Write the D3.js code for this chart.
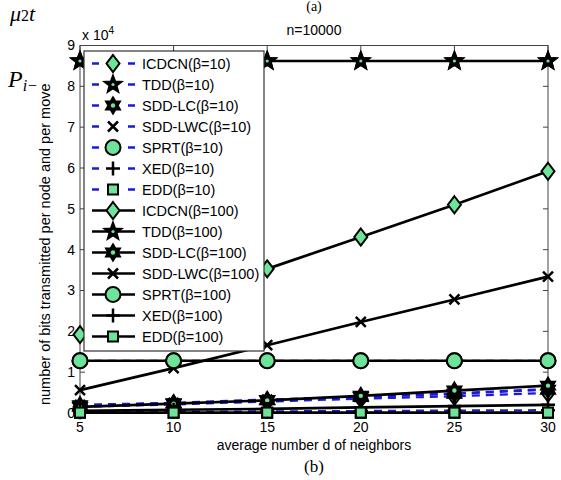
<!DOCTYPE html>
<html>
<head>
<meta charset="utf-8">
<script src="https://cdn.jsdelivr.net/npm/d3@7"></script>
<style>
  body { margin: 0; background: #fff; }
  svg { display: block; font-family: "Liberation Sans", Arial, sans-serif; }
</style>
</head>
<body>
<div id="chart"></div>
<script>
// average number of neighbours on the x axis
var degrees = [5, 10, 15, 20, 25, 30]
var xTickValues = [5, 10, 15, 20, 25, 30]
var yTickValues = [0, 1, 2, 3, 4, 5, 6, 7, 8, 9]   // shown in units of 10^4

// beta = 10
var icdcn10 = [1500, 2100, 2800, 3500, 4100, 4900]
var tdd10 = [86200, 86200, 86200, 86200, 86200, 86200]
var sddlc10 = [1900, 2400, 3200, 3900, 4700, 5700]
var sddlwc10 = [2000, 2500, 3300, 4000, 4800, 5900]
var sprt10 = [12800, 12800, 12800, 12800, 12800, 12800]
var xed10 = [200, 300, 400, 500, 600, 700]
var edd10 = [50, 50, 50, 50, 50, 50]

// beta = 100
var icdcn100 = [19200, 27200, 35300, 43100, 51000, 59200]
var tdd100 = [86200, 86200, 86200, 86200, 86200, 86200]
var sddlc100 = [1500, 2300, 3100, 4200, 5500, 6700]
var sddlwc100 = [5600, 11000, 16600, 22300, 27800, 33400]
var sprt100 = [12800, 12800, 12800, 12800, 12800, 12800]
var xed100 = [500, 800, 1000, 1400, 1700, 2000]
var edd100 = [100, 100, 100, 100, 100, 100]

var seriesNames = ["ICDCN", "TDD", "SDD-LC", "SDD-LWC", "SPRT", "XED", "EDD"]
var seriesMarkers = ["diamond", "star", "hexagram", "x", "circle", "plus", "square"]
var betas = [10, 100]
var seriesValues = [
  [icdcn10, tdd10, sddlc10, sddlwc10, sprt10, xed10, edd10],
  [icdcn100, tdd100, sddlc100, sddlwc100, sprt100, xed100, edd100]
]

;(function() {
  'use strict'

  var width = 561,
    height = 480,
    margin = {top: 45.5, right: 13, bottom: 67, left: 80}

  var green = "#6ee49b"

  var svg = d3.select("#chart").append("svg")
    .attr("width", width)
    .attr("height", height)

  var x = d3.scaleLinear()
    .domain([5, 30])
    .range([margin.left, width - margin.right])

  var y = d3.scaleLinear()
    .domain([0, 90000])
    .range([height - margin.bottom, margin.top])

  // flatten into one list, beta=10 drawn first
  var series = []
  betas.forEach(function(b, bi) {
    seriesNames.forEach(function(name, i) {
      series.push({
        label: name + "(\u03b2=" + b + ")",
        beta: b,
        marker: seriesMarkers[i],
        values: seriesValues[bi][i]
      })
    })
  })

  // marker shapes, MATLAB-ish
  function starPath(n, ro, ri) {
    var pts = []
    for (var k = 0; k < n * 2; k++) {
      var a = -Math.PI / 2 + k * Math.PI / n
      var r = k % 2 ? ri : ro
      pts.push([r * Math.cos(a), r * Math.sin(a)])
    }
    return "M" + pts.join("L") + "Z"
  }

  function drawMarker(g, type) {
    if (type === "diamond") {
      g.append("path").attr("d", "M0,-8.5L6.5,0L0,8.5L-6.5,0Z")
        .attr("fill", green).attr("stroke", "#000").attr("stroke-width", 2)
    } else if (type === "circle") {
      g.append("circle").attr("r", 7.5)
        .attr("fill", green).attr("stroke", "#000").attr("stroke-width", 2)
    } else if (type === "square") {
      g.append("rect").attr("x", -5).attr("y", -5).attr("width", 10).attr("height", 10)
        .attr("fill", green).attr("stroke", "#000").attr("stroke-width", 2)
    } else if (type === "star") {
      g.append("path").attr("d", starPath(5, 9.5, 4))
        .attr("fill", "#000").attr("stroke", "#000").attr("stroke-width", 1.5)
      g.append("circle").attr("r", 1.6).attr("fill", green)
    } else if (type === "hexagram") {
      g.append("path").attr("d", starPath(6, 8.5, 5))
        .attr("fill", "#000").attr("stroke", "#000").attr("stroke-width", 1.5)
      g.append("circle").attr("r", 2.2).attr("fill", green)
    } else if (type === "x") {
      g.append("path").attr("d", "M-5,-5L5,5M-5,5L5,-5")
        .attr("stroke", "#000").attr("stroke-width", 2.5)
    } else if (type === "plus") {
      g.append("path").attr("d", "M-7,0L7,0M0,-7L0,7")
        .attr("stroke", "#000").attr("stroke-width", 2.5)
    }
  }

  function lineColor(d) { return d.beta === 10 ? "#1a1adf" : "#000" }
  function lineDash(d) { return d.beta === 10 ? "8,6" : null }
  function lineWidth(d) { return d.beta === 10 ? 2.2 : 2.7 }

  // axes box
  var plotLeft = x.range()[0], plotRight = x.range()[1]
  var plotTop = y.range()[1], plotBottom = y.range()[0]

  svg.append("rect")
    .attr("x", plotLeft).attr("y", plotTop)
    .attr("width", plotRight - plotLeft).attr("height", plotBottom - plotTop)
    .attr("fill", "none").attr("stroke", "#444").attr("stroke-width", 1)

  var ticks = svg.append("g").attr("stroke", "#444").attr("stroke-width", 1)
  xTickValues.forEach(function(t) {
    ticks.append("line").attr("x1", x(t)).attr("x2", x(t)).attr("y1", plotBottom).attr("y2", plotBottom - 5)
    ticks.append("line").attr("x1", x(t)).attr("x2", x(t)).attr("y1", plotTop).attr("y2", plotTop + 5)
  })
  yTickValues.forEach(function(t) {
    ticks.append("line").attr("x1", plotLeft).attr("x2", plotLeft + 5).attr("y1", y(t * 1e4)).attr("y2", y(t * 1e4))
    ticks.append("line").attr("x1", plotRight).attr("x2", plotRight - 5).attr("y1", y(t * 1e4)).attr("y2", y(t * 1e4))
  })

  svg.append("g").selectAll("text")
    .data(xTickValues)
    .enter().append("text")
    .attr("x", function(d) { return x(d) })
    .attr("y", plotBottom + 19)
    .attr("text-anchor", "middle")
    .attr("font-size", 14)
    .text(function(d) { return d })

  svg.append("g").selectAll("text")
    .data(yTickValues)
    .enter().append("text")
    .attr("x", plotLeft - 5)
    .attr("y", function(d) { return y(d * 1e4) })
    .attr("dy", "0.35em")
    .attr("text-anchor", "end")
    .attr("font-size", 14)
    .text(function(d) { return d })

  var expo = svg.append("text")
    .attr("x", plotLeft + 2).attr("y", plotTop - 6)
    .attr("font-size", 14)
  expo.append("tspan").text("x 10")
  expo.append("tspan").attr("dy", -6).attr("font-size", 10).text("4")

  // series lines and markers
  var line = d3.line()
    .x(function(d, i) { return x(degrees[i]) })
    .y(function(d) { return y(d) })

  var seriesG = svg.selectAll(".series")
    .data(series)
    .enter().append("g")
    .attr("class", "series")

  seriesG.append("path")
    .attr("d", function(d) { return line(d.values) })
    .attr("fill", "none")
    .attr("stroke", lineColor)
    .attr("stroke-width", lineWidth)
    .attr("stroke-dasharray", lineDash)

  seriesG.each(function(d) {
    var g = d3.select(this)
    d.values.forEach(function(v, i) {
      var m = g.append("g").attr("transform", "translate(" + x(degrees[i]) + "," + y(v) + ")")
      drawMarker(m, d.marker)
    })
  })

  // legend
  var legTop = 51, legLeft = 84, legRight = 264, rowH = 21
  var legend = svg.append("g")
  legend.append("rect")
    .attr("x", legLeft).attr("y", legTop)
    .attr("width", legRight - legLeft)
    .attr("height", series.length * rowH + 6)
    .attr("fill", "#fff").attr("stroke", "#333").attr("stroke-width", 1.2)

  var rows = legend.selectAll(".row")
    .data(series)
    .enter().append("g")
    .attr("transform", function(d, i) { return "translate(0," + (legTop + 12.5 + i * rowH) + ")" })

  rows.append("line")
    .attr("x1", 92).attr("x2", 135)
    .attr("stroke", lineColor)
    .attr("stroke-width", 2.5)
    .attr("stroke-dasharray", function(d) { return d.beta === 10 ? "7,29" : null })

  rows.each(function(d) {
    drawMarker(d3.select(this).append("g").attr("transform", "translate(113,0)"), d.marker)
  })

  rows.append("text")
    .attr("x", 142)
    .attr("dy", "0.36em")
    .attr("font-size", 14.5)
    .text(function(d) { return d.label })

  // titles and labels
  svg.append("text")
    .attr("x", (plotLeft + plotRight) / 2).attr("y", 35)
    .attr("text-anchor", "middle").attr("font-size", 14)
    .text("n=10000")

  svg.append("text")
    .attr("x", (plotLeft + plotRight) / 2).attr("y", 450)
    .attr("text-anchor", "middle").attr("font-size", 14)
    .text("average number d of neighbors")

  svg.append("text")
    .attr("transform", "translate(50," + ((plotTop + plotBottom) / 2 + 15) + ") rotate(-90)")
    .attr("text-anchor", "middle").attr("font-size", 14.5)
    .text("number of bits transmitted per node and per move")

  // leftovers of the paper page around the figure
  svg.append("text")
    .attr("x", (plotLeft + plotRight) / 2).attr("y", 472)
    .attr("text-anchor", "middle").attr("font-size", 17)
    .attr("font-family", "Liberation Serif, serif")
    .text("(b)")

  svg.append("text")
    .attr("x", (plotLeft + plotRight) / 2).attr("y", 11)
    .attr("text-anchor", "middle").attr("font-size", 14)
    .attr("font-family", "Liberation Serif, serif")
    .text("(a)")

  var mu = svg.append("text")
    .attr("x", 10).attr("y", 21)
    .attr("font-size", 22)
    .attr("font-style", "italic")
    .attr("font-family", "Liberation Serif, serif")
  mu.append("tspan").text("\u03bc")
  mu.append("tspan").attr("font-style", "normal").attr("font-size", 16).text("2")
  mu.append("tspan").text("t")

  var p = svg.append("text")
    .attr("x", 8).attr("y", 87)
    .attr("font-size", 24)
    .attr("font-style", "italic")
    .attr("font-family", "Liberation Serif, serif")
  p.append("tspan").text("P")
  p.append("tspan").attr("dy", 4).attr("font-size", 16).text("i\u2212")
})()
</script>
</body>
</html>
